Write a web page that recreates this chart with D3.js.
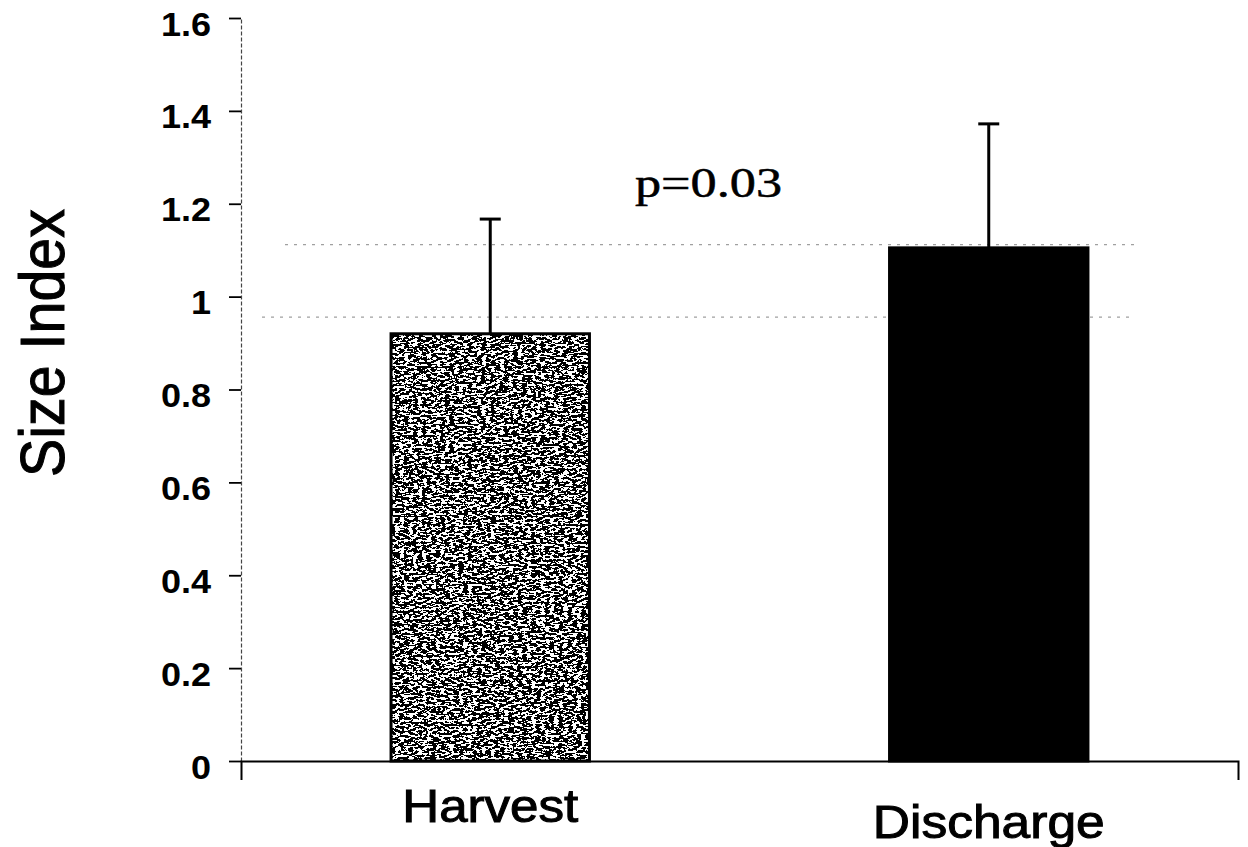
<!DOCTYPE html>
<html>
<head>
<meta charset="utf-8">
<script src="https://cdn.jsdelivr.net/npm/d3@7"></script>
<style>
  html, body { margin: 0; padding: 0; background: #fff; }
  svg { display: block; }
</style>
</head>
<body>
<svg id="chart" width="1248" height="847"></svg>
<script>
// Group means and standard deviations of the size index
const categories = ["Harvest", "Discharge"];
const means = [0.92, 1.105];
const sds = [0.247, 0.267];
// Faint dotted reference levels across the plot
const refLevels = [1.112, 0.956];
const yTicks = [0, 0.2, 0.4, 0.6, 0.8, 1, 1.2, 1.4, 1.6];
const yTickLabels = ["0", "0.2", "0.4", "0.6", "0.8", "1", "1.2", "1.4", "1.6"];
const pLabel = "p=0.03";
const yTitle = "Size Index";

const svg = d3.select("#chart");
const plotLeft = 241, plotRight = 1238, plotTop = 18, plotBottom = 761;

const x = d3.scaleBand().domain(categories).range([plotLeft, plotRight]).padding(0);
const y = d3.scaleLinear().domain([0, 1.6]).range([plotBottom, plotTop]);
const barW = x.bandwidth() * 0.398;

// Speckled texture for the first bar
const defs = svg.append("defs");
const f = defs.append("filter").attr("id", "speckle")
  .attr("x", 0).attr("y", 0).attr("width", 1).attr("height", 1);
f.append("feTurbulence").attr("type", "fractalNoise")
  .attr("baseFrequency", "0.22 0.45").attr("numOctaves", 3).attr("seed", 11).attr("result", "noise");
f.append("feColorMatrix").attr("in", "noise").attr("type", "matrix")
  .attr("values", "0 0 0 0 1  0 0 0 0 1  0 0 0 0 1  1.6 0 0 0 -0.33").attr("result", "a");
const ct = f.append("feComponentTransfer").attr("in", "a").attr("result", "mask");
ct.append("feFuncA").attr("type", "discrete").attr("tableValues", "0 1");
f.append("feComposite").attr("in", "mask").attr("in2", "SourceGraphic").attr("operator", "in").attr("result", "spots");
const fm = f.append("feMerge");
fm.append("feMergeNode").attr("in", "SourceGraphic");
fm.append("feMergeNode").attr("in", "spots");

// Dotted reference lines
const refExtent = [[285, 1135], [262, 1130]];
svg.append("g").selectAll("line").data(refLevels).join("line")
  .attr("x1", (d, i) => refExtent[i][0])
  .attr("x2", (d, i) => refExtent[i][1])
  .attr("y1", d => y(d)).attr("y2", d => y(d))
  .attr("stroke", "#a0a0a0").attr("stroke-width", 1.2)
  .attr("stroke-dasharray", "3,6");

// Error bars (upper only)
const eb = svg.append("g");
categories.forEach((c, i) => {
  const cx = x(c) + x.bandwidth() / 2;
  eb.append("line").attr("x1", cx).attr("x2", cx)
    .attr("y1", y(means[i])).attr("y2", y(means[i] + sds[i]))
    .attr("stroke", "#000").attr("stroke-width", 3);
  eb.append("line").attr("x1", cx - 10.5).attr("x2", cx + 10.5)
    .attr("y1", y(means[i] + sds[i])).attr("y2", y(means[i] + sds[i]))
    .attr("stroke", "#000").attr("stroke-width", 3);
});

// Bars
const bars = svg.append("g");
categories.forEach((c, i) => {
  const bx = x(c) + (x.bandwidth() - barW) / 2;
  bars.append("rect")
    .attr("x", bx).attr("y", y(means[i]))
    .attr("width", barW).attr("height", y(0) - y(means[i]))
    .attr("fill", "#000")
    .attr("filter", i === 0 ? "url(#speckle)" : null);
  bars.append("rect")
    .attr("x", bx).attr("y", y(means[i]))
    .attr("width", barW).attr("height", y(0) - y(means[i]))
    .attr("fill", "none").attr("stroke", "#000").attr("stroke-width", 3);
});

// Y axis
const yAxis = svg.append("g").attr("transform", `translate(${plotLeft},0)`)
  .call(d3.axisLeft(y).tickValues(yTicks)
    .tickFormat((d, i) => yTickLabels[i])
    .tickSizeInner(12).tickSizeOuter(0).tickPadding(18));
yAxis.select(".domain").attr("stroke", "#444").attr("stroke-width", 1.2).attr("stroke-dasharray", "4,2");
yAxis.selectAll(".tick line").attr("stroke", "#000").attr("stroke-width", 1.8);
yAxis.selectAll(".tick text")
  .attr("font-family", "Liberation Sans, Arial, sans-serif")
  .attr("font-weight", "bold").attr("font-size", 34)
  .attr("fill", "#000").attr("dy", "0.5em")
  .each(function () {
    // glyphs are set slightly wide
    const w = this.getComputedTextLength();
    d3.select(this).attr("textLength", w * 1.06).attr("lengthAdjust", "spacingAndGlyphs");
  });

// X axis
const xAxis = svg.append("g").attr("transform", `translate(0,${plotBottom})`)
  .call(d3.axisBottom(x).tickSizeInner(0).tickSizeOuter(19).tickFormat(""));
xAxis.select(".domain").attr("stroke", "#000").attr("stroke-width", 2);
xAxis.selectAll(".tick").remove();

// Category labels
const labelBase = [822, 838];
const labelLen = [176, 232];
svg.append("g").selectAll("text").data(categories).join("text")
  .attr("x", d => x(d) + x.bandwidth() / 2)
  .attr("y", (d, i) => labelBase[i])
  .attr("text-anchor", "middle")
  .attr("font-family", "Liberation Sans, Arial, sans-serif")
  .attr("font-size", 46)
  .attr("textLength", (d, i) => labelLen[i])
  .attr("lengthAdjust", "spacingAndGlyphs")
  .attr("fill", "#000")
  .attr("stroke", "#000").attr("stroke-width", 1)
  .text(d => d);

// Y title
svg.append("text")
  .attr("transform", "translate(64,343) rotate(-90)")
  .attr("text-anchor", "middle")
  .attr("font-family", "Liberation Sans, Arial, sans-serif")
  .attr("font-size", 63)
  .attr("textLength", 268).attr("lengthAdjust", "spacingAndGlyphs")
  .attr("fill", "#000")
  .attr("stroke", "#000").attr("stroke-width", 1)
  .text(yTitle);

// Significance annotation
svg.append("text")
  .attr("x", 635).attr("y", 197)
  .attr("font-family", "Liberation Serif, Times New Roman, serif")
  .attr("font-size", 42)
  .attr("textLength", 147).attr("lengthAdjust", "spacingAndGlyphs")
  .attr("fill", "#000")
  .attr("stroke", "#000").attr("stroke-width", 0.5)
  .text(pLabel);
</script>
</body>
</html>
